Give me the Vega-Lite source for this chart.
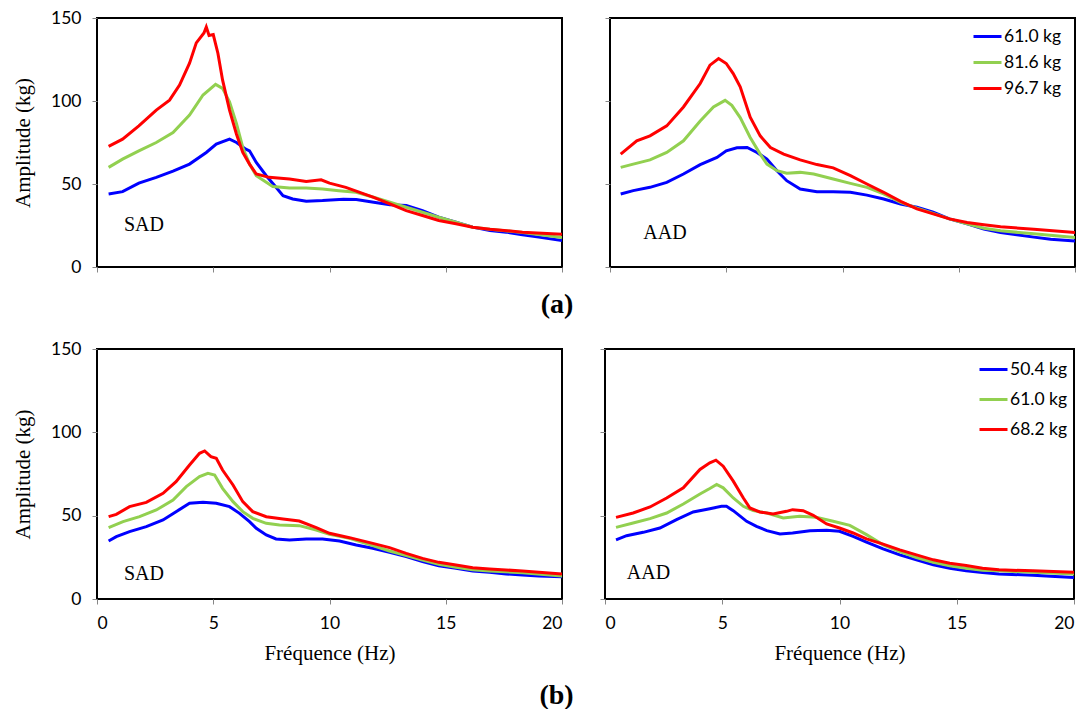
{
  "$schema": "https://vega.github.io/schema/vega-lite/v6.json",
  "background": "white",
  "padding": {"left": 11, "top": 8, "right": 8, "bottom": 5},
  "config": {
    "view": {"stroke": "#000000", "strokeWidth": 2},
    "axis": {"grid": false, "domain": false, "tickColor": "#868686", "tickSize": 5, "tickWidth": 1, "labelFont": "Lato", "labelFontSize": 17.5, "labelColor": "#000000", "titleFont": "Liberation Serif", "titleFontSize": 21, "titleFontWeight": "normal", "titleColor": "#000000"},
    "title": {"font": "Liberation Serif", "fontSize": 28, "fontWeight": "bold", "color": "#000000"},
    "legend": {"labelFont": "Lato", "labelFontSize": 17.5, "labelColor": "#000000"}
  },
  "datasets": {
    "aS": [
      {"s": "61.0 kg", "f": 0.5, "v": 44}, {"s": "61.0 kg", "f": 1.1, "v": 45.4}, {"s": "61.0 kg", "f": 1.8, "v": 50.5}, {"s": "61.0 kg", "f": 2.55, "v": 54}, {"s": "61.0 kg", "f": 3.27, "v": 57.7}, {"s": "61.0 kg", "f": 3.98, "v": 62}, {"s": "61.0 kg", "f": 4.7, "v": 69}, {"s": "61.0 kg", "f": 5.13, "v": 74}, {"s": "61.0 kg", "f": 5.7, "v": 77}, {"s": "61.0 kg", "f": 6.0, "v": 75}, {"s": "61.0 kg", "f": 6.4, "v": 71}, {"s": "61.0 kg", "f": 6.56, "v": 70}, {"s": "61.0 kg", "f": 6.85, "v": 63}, {"s": "61.0 kg", "f": 7.28, "v": 55}, {"s": "61.0 kg", "f": 7.7, "v": 48}, {"s": "61.0 kg", "f": 8.0, "v": 43}, {"s": "61.0 kg", "f": 8.42, "v": 41}, {"s": "61.0 kg", "f": 9.0, "v": 39.6}, {"s": "61.0 kg", "f": 9.7, "v": 40}, {"s": "61.0 kg", "f": 10.6, "v": 40.8}, {"s": "61.0 kg", "f": 11.15, "v": 40.6}, {"s": "61.0 kg", "f": 11.9, "v": 39}, {"s": "61.0 kg", "f": 12.6, "v": 37.5}, {"s": "61.0 kg", "f": 13.3, "v": 37}, {"s": "61.0 kg", "f": 14.0, "v": 34}, {"s": "61.0 kg", "f": 14.7, "v": 30}, {"s": "61.0 kg", "f": 15.44, "v": 27}, {"s": "61.0 kg", "f": 16.16, "v": 24}, {"s": "61.0 kg", "f": 16.9, "v": 22}, {"s": "61.0 kg", "f": 17.6, "v": 21}, {"s": "61.0 kg", "f": 18.3, "v": 19.4}, {"s": "61.0 kg", "f": 19.0, "v": 18}, {"s": "61.0 kg", "f": 20.0, "v": 16},
      {"s": "81.6 kg", "f": 0.5, "v": 60}, {"s": "81.6 kg", "f": 1.1, "v": 65}, {"s": "81.6 kg", "f": 1.8, "v": 70}, {"s": "81.6 kg", "f": 2.55, "v": 75}, {"s": "81.6 kg", "f": 3.27, "v": 81}, {"s": "81.6 kg", "f": 3.98, "v": 91.5}, {"s": "81.6 kg", "f": 4.56, "v": 103.6}, {"s": "81.6 kg", "f": 5.1, "v": 110}, {"s": "81.6 kg", "f": 5.4, "v": 107.6}, {"s": "81.6 kg", "f": 5.7, "v": 99.5}, {"s": "81.6 kg", "f": 6.0, "v": 86.4}, {"s": "81.6 kg", "f": 6.27, "v": 72}, {"s": "81.6 kg", "f": 6.56, "v": 62}, {"s": "81.6 kg", "f": 6.85, "v": 55}, {"s": "81.6 kg", "f": 7.28, "v": 51}, {"s": "81.6 kg", "f": 7.56, "v": 48.5}, {"s": "81.6 kg", "f": 8.28, "v": 47.6}, {"s": "81.6 kg", "f": 9.0, "v": 47.6}, {"s": "81.6 kg", "f": 9.7, "v": 47}, {"s": "81.6 kg", "f": 10.4, "v": 46}, {"s": "81.6 kg", "f": 11.15, "v": 45}, {"s": "81.6 kg", "f": 11.9, "v": 42}, {"s": "81.6 kg", "f": 12.6, "v": 39}, {"s": "81.6 kg", "f": 13.3, "v": 36}, {"s": "81.6 kg", "f": 14.0, "v": 33}, {"s": "81.6 kg", "f": 14.7, "v": 30}, {"s": "81.6 kg", "f": 15.44, "v": 27}, {"s": "81.6 kg", "f": 16.16, "v": 24}, {"s": "81.6 kg", "f": 16.9, "v": 22.8}, {"s": "81.6 kg", "f": 18.3, "v": 20.8}, {"s": "81.6 kg", "f": 20.0, "v": 17.8},
      {"s": "96.7 kg", "f": 0.5, "v": 72.7}, {"s": "96.7 kg", "f": 1.1, "v": 77}, {"s": "96.7 kg", "f": 1.8, "v": 85}, {"s": "96.7 kg", "f": 2.55, "v": 94.5}, {"s": "96.7 kg", "f": 3.12, "v": 100.5}, {"s": "96.7 kg", "f": 3.55, "v": 109.6}, {"s": "96.7 kg", "f": 3.98, "v": 122.8}, {"s": "96.7 kg", "f": 4.27, "v": 135}, {"s": "96.7 kg", "f": 4.6, "v": 141}, {"s": "96.7 kg", "f": 4.7, "v": 144.6}, {"s": "96.7 kg", "f": 4.82, "v": 139.5}, {"s": "96.7 kg", "f": 5.0, "v": 140}, {"s": "96.7 kg", "f": 5.2, "v": 128.8}, {"s": "96.7 kg", "f": 5.4, "v": 112.7}, {"s": "96.7 kg", "f": 5.7, "v": 94.5}, {"s": "96.7 kg", "f": 6.0, "v": 80}, {"s": "96.7 kg", "f": 6.27, "v": 69}, {"s": "96.7 kg", "f": 6.56, "v": 62}, {"s": "96.7 kg", "f": 6.85, "v": 56}, {"s": "96.7 kg", "f": 7.4, "v": 54}, {"s": "96.7 kg", "f": 8.28, "v": 53}, {"s": "96.7 kg", "f": 9.0, "v": 51.5}, {"s": "96.7 kg", "f": 9.64, "v": 52.5}, {"s": "96.7 kg", "f": 10.0, "v": 50.5}, {"s": "96.7 kg", "f": 10.7, "v": 48}, {"s": "96.7 kg", "f": 11.9, "v": 42}, {"s": "96.7 kg", "f": 12.6, "v": 38}, {"s": "96.7 kg", "f": 13.3, "v": 34}, {"s": "96.7 kg", "f": 14.0, "v": 31}, {"s": "96.7 kg", "f": 14.7, "v": 28}, {"s": "96.7 kg", "f": 15.44, "v": 26}, {"s": "96.7 kg", "f": 16.16, "v": 24}, {"s": "96.7 kg", "f": 16.9, "v": 22.8}, {"s": "96.7 kg", "f": 18.3, "v": 21}, {"s": "96.7 kg", "f": 20.0, "v": 19.8}
    ],
    "aA": [
      {"s": "61.0 kg", "f": 0.46, "v": 44}, {"s": "61.0 kg", "f": 1.0, "v": 46}, {"s": "61.0 kg", "f": 1.72, "v": 48}, {"s": "61.0 kg", "f": 2.44, "v": 51}, {"s": "61.0 kg", "f": 3.16, "v": 56}, {"s": "61.0 kg", "f": 3.88, "v": 61.7}, {"s": "61.0 kg", "f": 4.6, "v": 66}, {"s": "61.0 kg", "f": 5.0, "v": 70}, {"s": "61.0 kg", "f": 5.46, "v": 71.8}, {"s": "61.0 kg", "f": 5.9, "v": 72}, {"s": "61.0 kg", "f": 6.32, "v": 69}, {"s": "61.0 kg", "f": 6.75, "v": 65}, {"s": "61.0 kg", "f": 7.18, "v": 58}, {"s": "61.0 kg", "f": 7.6, "v": 52}, {"s": "61.0 kg", "f": 8.18, "v": 47}, {"s": "61.0 kg", "f": 8.9, "v": 45.4}, {"s": "61.0 kg", "f": 9.6, "v": 45.4}, {"s": "61.0 kg", "f": 10.34, "v": 45}, {"s": "61.0 kg", "f": 11.05, "v": 43.3}, {"s": "61.0 kg", "f": 11.77, "v": 41}, {"s": "61.0 kg", "f": 12.5, "v": 38}, {"s": "61.0 kg", "f": 13.2, "v": 36}, {"s": "61.0 kg", "f": 13.9, "v": 33}, {"s": "61.0 kg", "f": 14.6, "v": 29}, {"s": "61.0 kg", "f": 15.36, "v": 26}, {"s": "61.0 kg", "f": 16.08, "v": 22.8}, {"s": "61.0 kg", "f": 16.8, "v": 20.8}, {"s": "61.0 kg", "f": 17.5, "v": 19.4}, {"s": "61.0 kg", "f": 18.23, "v": 18}, {"s": "61.0 kg", "f": 18.95, "v": 16.7}, {"s": "61.0 kg", "f": 20.0, "v": 15.7},
      {"s": "81.6 kg", "f": 0.46, "v": 60}, {"s": "81.6 kg", "f": 1.0, "v": 62}, {"s": "81.6 kg", "f": 1.72, "v": 64.5}, {"s": "81.6 kg", "f": 2.44, "v": 69}, {"s": "81.6 kg", "f": 3.16, "v": 76}, {"s": "81.6 kg", "f": 3.88, "v": 88}, {"s": "81.6 kg", "f": 4.45, "v": 96.4}, {"s": "81.6 kg", "f": 4.95, "v": 100.4}, {"s": "81.6 kg", "f": 5.24, "v": 97.4}, {"s": "81.6 kg", "f": 5.6, "v": 90}, {"s": "81.6 kg", "f": 6.03, "v": 78}, {"s": "81.6 kg", "f": 6.46, "v": 68}, {"s": "81.6 kg", "f": 6.75, "v": 62}, {"s": "81.6 kg", "f": 7.18, "v": 58}, {"s": "81.6 kg", "f": 7.6, "v": 56.5}, {"s": "81.6 kg", "f": 8.18, "v": 57}, {"s": "81.6 kg", "f": 8.76, "v": 56}, {"s": "81.6 kg", "f": 9.6, "v": 53}, {"s": "81.6 kg", "f": 10.34, "v": 50.4}, {"s": "81.6 kg", "f": 11.05, "v": 48}, {"s": "81.6 kg", "f": 11.77, "v": 44}, {"s": "81.6 kg", "f": 12.5, "v": 39}, {"s": "81.6 kg", "f": 13.2, "v": 35.5}, {"s": "81.6 kg", "f": 13.9, "v": 32.3}, {"s": "81.6 kg", "f": 14.6, "v": 29}, {"s": "81.6 kg", "f": 15.36, "v": 26}, {"s": "81.6 kg", "f": 16.08, "v": 23.4}, {"s": "81.6 kg", "f": 16.8, "v": 21.8}, {"s": "81.6 kg", "f": 18.23, "v": 20}, {"s": "81.6 kg", "f": 20.0, "v": 17.7},
      {"s": "96.7 kg", "f": 0.46, "v": 68}, {"s": "96.7 kg", "f": 0.72, "v": 71}, {"s": "96.7 kg", "f": 1.15, "v": 76}, {"s": "96.7 kg", "f": 1.72, "v": 79}, {"s": "96.7 kg", "f": 2.44, "v": 85}, {"s": "96.7 kg", "f": 3.16, "v": 96.4}, {"s": "96.7 kg", "f": 3.88, "v": 110.5}, {"s": "96.7 kg", "f": 4.3, "v": 121.6}, {"s": "96.7 kg", "f": 4.67, "v": 125.6}, {"s": "96.7 kg", "f": 5.0, "v": 122.6}, {"s": "96.7 kg", "f": 5.3, "v": 116.5}, {"s": "96.7 kg", "f": 5.6, "v": 108.5}, {"s": "96.7 kg", "f": 6.03, "v": 90.3}, {"s": "96.7 kg", "f": 6.46, "v": 79}, {"s": "96.7 kg", "f": 6.9, "v": 72}, {"s": "96.7 kg", "f": 7.47, "v": 68}, {"s": "96.7 kg", "f": 8.18, "v": 64.5}, {"s": "96.7 kg", "f": 8.9, "v": 61.7}, {"s": "96.7 kg", "f": 9.6, "v": 59.7}, {"s": "96.7 kg", "f": 10.34, "v": 55}, {"s": "96.7 kg", "f": 11.05, "v": 50}, {"s": "96.7 kg", "f": 11.77, "v": 45}, {"s": "96.7 kg", "f": 12.5, "v": 39.5}, {"s": "96.7 kg", "f": 13.2, "v": 35}, {"s": "96.7 kg", "f": 13.9, "v": 32}, {"s": "96.7 kg", "f": 14.6, "v": 29}, {"s": "96.7 kg", "f": 15.36, "v": 26.8}, {"s": "96.7 kg", "f": 16.08, "v": 25.4}, {"s": "96.7 kg", "f": 16.8, "v": 24.2}, {"s": "96.7 kg", "f": 18.23, "v": 22.8}, {"s": "96.7 kg", "f": 20.0, "v": 20.8}
    ],
    "bS": [
      {"s": "50.4 kg", "f": 0.5, "v": 34.8}, {"s": "50.4 kg", "f": 0.83, "v": 37.4}, {"s": "50.4 kg", "f": 1.4, "v": 40.4}, {"s": "50.4 kg", "f": 2.12, "v": 43.4}, {"s": "50.4 kg", "f": 2.84, "v": 47.4}, {"s": "50.4 kg", "f": 3.4, "v": 52.4}, {"s": "50.4 kg", "f": 3.98, "v": 57.4}, {"s": "50.4 kg", "f": 4.56, "v": 58}, {"s": "50.4 kg", "f": 5.13, "v": 57.4}, {"s": "50.4 kg", "f": 5.7, "v": 55.4}, {"s": "50.4 kg", "f": 6.13, "v": 51.4}, {"s": "50.4 kg", "f": 6.56, "v": 46.4}, {"s": "50.4 kg", "f": 6.85, "v": 42.4}, {"s": "50.4 kg", "f": 7.28, "v": 38.4}, {"s": "50.4 kg", "f": 7.7, "v": 36}, {"s": "50.4 kg", "f": 8.28, "v": 35.4}, {"s": "50.4 kg", "f": 9.0, "v": 36}, {"s": "50.4 kg", "f": 9.7, "v": 36}, {"s": "50.4 kg", "f": 10.43, "v": 34.8}, {"s": "50.4 kg", "f": 11.15, "v": 32.4}, {"s": "50.4 kg", "f": 11.86, "v": 30.4}, {"s": "50.4 kg", "f": 12.58, "v": 28}, {"s": "50.4 kg", "f": 13.3, "v": 25.4}, {"s": "50.4 kg", "f": 14.0, "v": 22.4}, {"s": "50.4 kg", "f": 14.7, "v": 20}, {"s": "50.4 kg", "f": 15.44, "v": 18.4}, {"s": "50.4 kg", "f": 16.16, "v": 16.8}, {"s": "50.4 kg", "f": 16.88, "v": 16}, {"s": "50.4 kg", "f": 17.6, "v": 15}, {"s": "50.4 kg", "f": 18.3, "v": 14.4}, {"s": "50.4 kg", "f": 19.0, "v": 13.8}, {"s": "50.4 kg", "f": 20.0, "v": 13.4},
      {"s": "61.0 kg", "f": 0.5, "v": 42.8}, {"s": "61.0 kg", "f": 1.12, "v": 46.4}, {"s": "61.0 kg", "f": 1.83, "v": 49.4}, {"s": "61.0 kg", "f": 2.55, "v": 53.4}, {"s": "61.0 kg", "f": 3.27, "v": 59.4}, {"s": "61.0 kg", "f": 3.84, "v": 67.4}, {"s": "61.0 kg", "f": 4.41, "v": 73.4}, {"s": "61.0 kg", "f": 4.77, "v": 75.4}, {"s": "61.0 kg", "f": 5.06, "v": 74.4}, {"s": "61.0 kg", "f": 5.4, "v": 66.4}, {"s": "61.0 kg", "f": 5.85, "v": 58.4}, {"s": "61.0 kg", "f": 6.27, "v": 52.4}, {"s": "61.0 kg", "f": 6.7, "v": 48.4}, {"s": "61.0 kg", "f": 7.28, "v": 45.4}, {"s": "61.0 kg", "f": 7.85, "v": 44.4}, {"s": "61.0 kg", "f": 8.7, "v": 44}, {"s": "61.0 kg", "f": 9.43, "v": 41.4}, {"s": "61.0 kg", "f": 10.0, "v": 38.8}, {"s": "61.0 kg", "f": 10.86, "v": 36.4}, {"s": "61.0 kg", "f": 11.86, "v": 32}, {"s": "61.0 kg", "f": 12.58, "v": 28.8}, {"s": "61.0 kg", "f": 13.3, "v": 26}, {"s": "61.0 kg", "f": 14.0, "v": 23.4}, {"s": "61.0 kg", "f": 14.7, "v": 20.8}, {"s": "61.0 kg", "f": 15.44, "v": 19}, {"s": "61.0 kg", "f": 16.16, "v": 17.6}, {"s": "61.0 kg", "f": 16.88, "v": 16.8}, {"s": "61.0 kg", "f": 18.3, "v": 15.8}, {"s": "61.0 kg", "f": 20.0, "v": 13.8},
      {"s": "68.2 kg", "f": 0.5, "v": 49.4}, {"s": "68.2 kg", "f": 0.83, "v": 50.8}, {"s": "68.2 kg", "f": 1.4, "v": 55.4}, {"s": "68.2 kg", "f": 2.12, "v": 58}, {"s": "68.2 kg", "f": 2.84, "v": 63.4}, {"s": "68.2 kg", "f": 3.4, "v": 70.4}, {"s": "68.2 kg", "f": 3.98, "v": 80.4}, {"s": "68.2 kg", "f": 4.41, "v": 87.4}, {"s": "68.2 kg", "f": 4.63, "v": 88.8}, {"s": "68.2 kg", "f": 4.9, "v": 85.4}, {"s": "68.2 kg", "f": 5.13, "v": 84.4}, {"s": "68.2 kg", "f": 5.4, "v": 77.4}, {"s": "68.2 kg", "f": 5.85, "v": 68.4}, {"s": "68.2 kg", "f": 6.27, "v": 58.4}, {"s": "68.2 kg", "f": 6.7, "v": 52.4}, {"s": "68.2 kg", "f": 7.28, "v": 49.4}, {"s": "68.2 kg", "f": 8.0, "v": 48}, {"s": "68.2 kg", "f": 8.7, "v": 46.8}, {"s": "68.2 kg", "f": 9.43, "v": 42.8}, {"s": "68.2 kg", "f": 10.0, "v": 39.4}, {"s": "68.2 kg", "f": 10.86, "v": 36.8}, {"s": "68.2 kg", "f": 11.86, "v": 33.4}, {"s": "68.2 kg", "f": 12.58, "v": 30.8}, {"s": "68.2 kg", "f": 13.3, "v": 27.4}, {"s": "68.2 kg", "f": 14.0, "v": 24.4}, {"s": "68.2 kg", "f": 14.7, "v": 22}, {"s": "68.2 kg", "f": 15.44, "v": 20.4}, {"s": "68.2 kg", "f": 16.16, "v": 18.8}, {"s": "68.2 kg", "f": 16.88, "v": 18}, {"s": "68.2 kg", "f": 18.3, "v": 16.8}, {"s": "68.2 kg", "f": 20.0, "v": 15}
    ],
    "bA": [
      {"s": "50.4 kg", "f": 0.47, "v": 35.5}, {"s": "50.4 kg", "f": 0.92, "v": 38}, {"s": "50.4 kg", "f": 1.63, "v": 40}, {"s": "50.4 kg", "f": 2.34, "v": 42.6}, {"s": "50.4 kg", "f": 3.05, "v": 47.6}, {"s": "50.4 kg", "f": 3.76, "v": 52.2}, {"s": "50.4 kg", "f": 4.47, "v": 54.2}, {"s": "50.4 kg", "f": 4.97, "v": 55.6}, {"s": "50.4 kg", "f": 5.18, "v": 55.6}, {"s": "50.4 kg", "f": 5.47, "v": 53}, {"s": "50.4 kg", "f": 6.04, "v": 46.6}, {"s": "50.4 kg", "f": 6.46, "v": 43.6}, {"s": "50.4 kg", "f": 6.9, "v": 41}, {"s": "50.4 kg", "f": 7.46, "v": 39}, {"s": "50.4 kg", "f": 8.0, "v": 39.6}, {"s": "50.4 kg", "f": 8.74, "v": 41}, {"s": "50.4 kg", "f": 9.45, "v": 41.2}, {"s": "50.4 kg", "f": 10.0, "v": 40.6}, {"s": "50.4 kg", "f": 10.58, "v": 37.6}, {"s": "50.4 kg", "f": 11.15, "v": 34.1}, {"s": "50.4 kg", "f": 11.86, "v": 30.1}, {"s": "50.4 kg", "f": 12.57, "v": 26.5}, {"s": "50.4 kg", "f": 13.28, "v": 23.5}, {"s": "50.4 kg", "f": 14.0, "v": 20.5}, {"s": "50.4 kg", "f": 14.7, "v": 18.5}, {"s": "50.4 kg", "f": 15.4, "v": 17}, {"s": "50.4 kg", "f": 16.1, "v": 15.9}, {"s": "50.4 kg", "f": 16.8, "v": 15}, {"s": "50.4 kg", "f": 18.25, "v": 14.3}, {"s": "50.4 kg", "f": 19.0, "v": 13.7}, {"s": "50.4 kg", "f": 20.0, "v": 12.9},
      {"s": "61.0 kg", "f": 0.47, "v": 43}, {"s": "61.0 kg", "f": 1.2, "v": 45.6}, {"s": "61.0 kg", "f": 1.92, "v": 48.2}, {"s": "61.0 kg", "f": 2.63, "v": 51.6}, {"s": "61.0 kg", "f": 3.34, "v": 57}, {"s": "61.0 kg", "f": 4.05, "v": 63}, {"s": "61.0 kg", "f": 4.47, "v": 66.3}, {"s": "61.0 kg", "f": 4.76, "v": 68.7}, {"s": "61.0 kg", "f": 5.04, "v": 66.7}, {"s": "61.0 kg", "f": 5.47, "v": 60.6}, {"s": "61.0 kg", "f": 5.9, "v": 55.6}, {"s": "61.0 kg", "f": 6.32, "v": 53}, {"s": "61.0 kg", "f": 6.9, "v": 51.6}, {"s": "61.0 kg", "f": 7.6, "v": 48.6}, {"s": "61.0 kg", "f": 8.3, "v": 49.6}, {"s": "61.0 kg", "f": 9.0, "v": 49}, {"s": "61.0 kg", "f": 9.73, "v": 46.6}, {"s": "61.0 kg", "f": 10.44, "v": 44.2}, {"s": "61.0 kg", "f": 11.15, "v": 38.6}, {"s": "61.0 kg", "f": 11.86, "v": 32.5}, {"s": "61.0 kg", "f": 12.57, "v": 28.5}, {"s": "61.0 kg", "f": 13.28, "v": 24.9}, {"s": "61.0 kg", "f": 14.0, "v": 22}, {"s": "61.0 kg", "f": 14.7, "v": 20}, {"s": "61.0 kg", "f": 15.4, "v": 18.5}, {"s": "61.0 kg", "f": 16.1, "v": 17.3}, {"s": "61.0 kg", "f": 16.8, "v": 16.9}, {"s": "61.0 kg", "f": 18.25, "v": 16}, {"s": "61.0 kg", "f": 20.0, "v": 15},
      {"s": "68.2 kg", "f": 0.47, "v": 49}, {"s": "68.2 kg", "f": 1.2, "v": 51.6}, {"s": "68.2 kg", "f": 1.92, "v": 55.2}, {"s": "68.2 kg", "f": 2.63, "v": 60.6}, {"s": "68.2 kg", "f": 3.34, "v": 66.7}, {"s": "68.2 kg", "f": 4.05, "v": 77.7}, {"s": "68.2 kg", "f": 4.47, "v": 81.7}, {"s": "68.2 kg", "f": 4.73, "v": 83.3}, {"s": "68.2 kg", "f": 5.04, "v": 79.7}, {"s": "68.2 kg", "f": 5.47, "v": 70.7}, {"s": "68.2 kg", "f": 5.9, "v": 60.6}, {"s": "68.2 kg", "f": 6.18, "v": 54.6}, {"s": "68.2 kg", "f": 6.6, "v": 52.2}, {"s": "68.2 kg", "f": 7.17, "v": 51}, {"s": "68.2 kg", "f": 7.74, "v": 52.6}, {"s": "68.2 kg", "f": 8.0, "v": 53.6}, {"s": "68.2 kg", "f": 8.45, "v": 53}, {"s": "68.2 kg", "f": 8.88, "v": 50.2}, {"s": "68.2 kg", "f": 9.45, "v": 45}, {"s": "68.2 kg", "f": 10.0, "v": 42.6}, {"s": "68.2 kg", "f": 10.58, "v": 39.6}, {"s": "68.2 kg", "f": 11.15, "v": 36.1}, {"s": "68.2 kg", "f": 11.86, "v": 32.9}, {"s": "68.2 kg", "f": 12.57, "v": 29.5}, {"s": "68.2 kg", "f": 13.28, "v": 26.5}, {"s": "68.2 kg", "f": 14.0, "v": 23.5}, {"s": "68.2 kg", "f": 14.7, "v": 21.5}, {"s": "68.2 kg", "f": 15.4, "v": 20.1}, {"s": "68.2 kg", "f": 16.1, "v": 18.5}, {"s": "68.2 kg", "f": 16.8, "v": 17.5}, {"s": "68.2 kg", "f": 18.25, "v": 16.9}, {"s": "68.2 kg", "f": 20.0, "v": 16.1}
    ],
    "one": [{"k": 1}]
  },
  "resolve": {"scale": {"color": "independent"}, "legend": {"color": "independent"}},
  "spacing": 20,
  "vconcat": [
    {
      "title": {"text": "(a)", "orient": "bottom", "anchor": "middle", "offset": 14, "dx": 13},
      "spacing": 48,
      "bounds": "flush",
      "resolve": {"scale": {"color": "independent"}, "legend": {"color": "independent"}},
      "hconcat": [
        {
          "width": 465, "height": 249,
          "layer": [
            {
              "data": {"name": "aS"},
              "mark": {"type": "line", "strokeWidth": 3, "clip": true},
              "encoding": {
                "x": {"field": "f", "type": "quantitative", "scale": {"domain": [0, 20], "nice": false}, "axis": {"values": [0, 5, 10, 15, 20], "labels": false, "title": null}},
                "y": {"field": "v", "type": "quantitative", "scale": {"domain": [0, 150], "nice": false}, "axis": {"values": [0, 50, 100, 150], "title": "Amplitude (kg)", "labelPadding": 11, "titlePadding": 17}},
                "color": {"field": "s", "type": "nominal", "scale": {"domain": ["61.0 kg", "81.6 kg", "96.7 kg"], "range": ["#0000FF", "#92D050", "#FF0000"]}, "legend": null}
              }
            },
            {
              "data": {"name": "one"},
              "mark": {"type": "text", "text": "SAD", "font": "Liberation Serif", "fontSize": 20, "align": "left", "baseline": "alphabetic", "color": "#000000"},
              "encoding": {"x": {"datum": 1.16, "type": "quantitative"}, "y": {"datum": 21.8, "type": "quantitative"}}
            }
          ]
        },
        {
          "width": 465, "height": 249,
          "layer": [
            {
              "data": {"name": "aA"},
              "mark": {"type": "line", "strokeWidth": 3, "clip": true},
              "encoding": {
                "x": {"field": "f", "type": "quantitative", "scale": {"domain": [0, 20], "nice": false}, "axis": {"values": [0, 5, 10, 15, 20], "labels": false, "title": null}},
                "y": {"field": "v", "type": "quantitative", "scale": {"domain": [0, 150], "nice": false}, "axis": {"values": [0, 50, 100, 150], "labels": false, "title": null}},
                "color": {"field": "s", "type": "nominal", "scale": {"domain": ["61.0 kg", "81.6 kg", "96.7 kg"], "range": ["#0000FF", "#92D050", "#FF0000"]}, "legend": {"orient": "none", "legendX": 362, "legendY": 3, "title": null, "symbolType": "stroke", "symbolStrokeWidth": 3, "symbolSize": 784, "labelOffset": 1, "rowPadding": 2}}
              }
            },
            {
              "data": {"name": "one"},
              "mark": {"type": "text", "text": "AAD", "font": "Liberation Serif", "fontSize": 20, "align": "left", "baseline": "alphabetic", "color": "#000000"},
              "encoding": {"x": {"datum": 1.43, "type": "quantitative"}, "y": {"datum": 17, "type": "quantitative"}}
            }
          ]
        }
      ]
    },
    {
      "title": {"text": "(b)", "orient": "bottom", "anchor": "middle", "offset": 17, "dx": 13},
      "spacing": 43,
      "bounds": "flush",
      "resolve": {"scale": {"color": "independent"}, "legend": {"color": "independent"}},
      "hconcat": [
        {
          "width": 465, "height": 250,
          "layer": [
            {
              "data": {"name": "bS"},
              "mark": {"type": "line", "strokeWidth": 3, "clip": true},
              "encoding": {
                "x": {"field": "f", "type": "quantitative", "scale": {"domain": [0, 20], "nice": false}, "axis": {"values": [0, 5, 10, 15, 20], "title": "Fréquence (Hz)", "labelPadding": 10, "titlePadding": 11}},
                "y": {"field": "v", "type": "quantitative", "scale": {"domain": [0, 150], "nice": false}, "axis": {"values": [0, 50, 100, 150], "title": "Amplitude (kg)", "labelPadding": 11, "titlePadding": 17}},
                "color": {"field": "s", "type": "nominal", "scale": {"domain": ["50.4 kg", "61.0 kg", "68.2 kg"], "range": ["#0000FF", "#92D050", "#FF0000"]}, "legend": null}
              }
            },
            {
              "data": {"name": "one"},
              "mark": {"type": "text", "text": "SAD", "font": "Liberation Serif", "fontSize": 20, "align": "left", "baseline": "alphabetic", "color": "#000000"},
              "encoding": {"x": {"datum": 1.16, "type": "quantitative"}, "y": {"datum": 11.4, "type": "quantitative"}}
            }
          ]
        },
        {
          "width": 469, "height": 250,
          "layer": [
            {
              "data": {"name": "bA"},
              "mark": {"type": "line", "strokeWidth": 3, "clip": true},
              "encoding": {
                "x": {"field": "f", "type": "quantitative", "scale": {"domain": [0, 20], "nice": false}, "axis": {"values": [0, 5, 10, 15, 20], "title": "Fréquence (Hz)", "labelPadding": 10, "titlePadding": 11}},
                "y": {"field": "v", "type": "quantitative", "scale": {"domain": [0, 150], "nice": false}, "axis": {"values": [0, 50, 100, 150], "labels": false, "title": null}},
                "color": {"field": "s", "type": "nominal", "scale": {"domain": ["50.4 kg", "61.0 kg", "68.2 kg"], "range": ["#0000FF", "#92D050", "#FF0000"]}, "legend": {"orient": "none", "legendX": 373, "legendY": 5, "title": null, "symbolType": "stroke", "symbolStrokeWidth": 3, "symbolSize": 784, "labelOffset": 1, "rowPadding": 6}}
              }
            },
            {
              "data": {"name": "one"},
              "mark": {"type": "text", "text": "AAD", "font": "Liberation Serif", "fontSize": 20, "align": "left", "baseline": "alphabetic", "color": "#000000"},
              "encoding": {"x": {"datum": 0.93, "type": "quantitative"}, "y": {"datum": 11.8, "type": "quantitative"}}
            }
          ]
        }
      ]
    }
  ]
}
